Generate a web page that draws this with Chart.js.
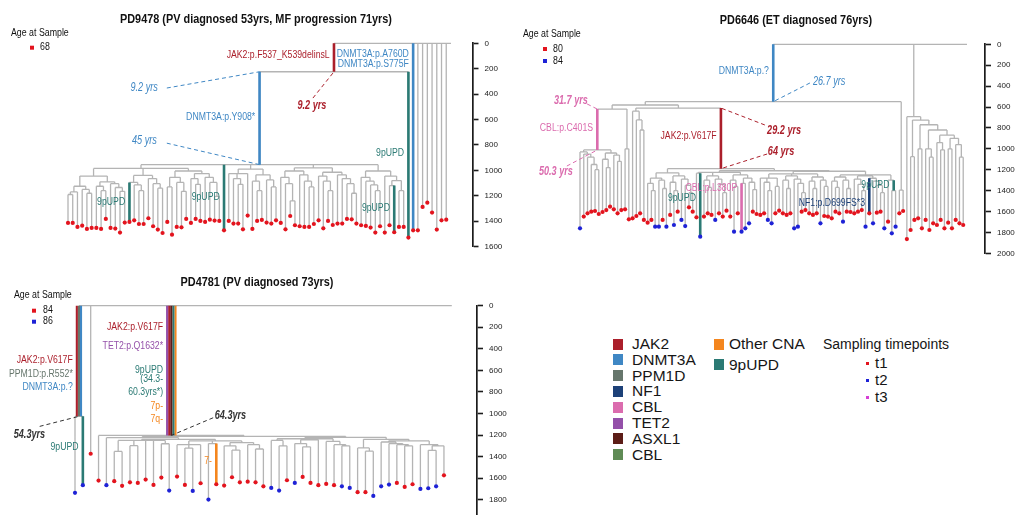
<!DOCTYPE html>
<html>
<head>
<meta charset="utf-8">
<script src="https://cdn.jsdelivr.net/npm/chart.js@4.4.1/dist/chart.umd.min.js"></script>
<style>
  html, body { margin: 0; padding: 0; background: #fff; }
  body { position: relative; width: 1018px; height: 515px; overflow: hidden; font-family: "Liberation Sans", Arial, sans-serif; }
  canvas { position: absolute; }
  .key { position: absolute; height: 16px; line-height: 16px; white-space: nowrap; color: #161616; }
  .swatch { position: absolute; width: 10px; height: 11px; }
</style>
</head>
<body>
<canvas id="pd9478"></canvas>
<canvas id="pd6646"></canvas>
<canvas id="pd4781"></canvas>
<div id="legend"></div>
<script>
// ---------- data: PD9478 ----------
const pd9478Title = "PD9478 (PV diagnosed 53yrs, MF progression 71yrs)";
const pd9478Ages = ["68"];
// mutation burden of each colony, in plotting order (last one is the ancestral root tip)
const pd9478Depth = [
  1414, 1414, 1445, 1435, 1461, 1453, 1453, 1461, 1382, 1453,
  1458, 1490, 1411, 1406, 1393, 1422, 1422, 1377, 1440, 1466,
  1493, 1406, 1506, 1445, 1448, 1382, 1414, 1382, 1398, 1406,
  1388, 1395, 1398, 1472, 1398, 1419, 1419, 1464, 1356, 1461,
  1398, 1390, 1411, 1419, 1393, 1414, 1464, 1359, 1432, 1440,
  1445, 1445, 1422, 1393, 1456, 1398, 1430, 1419, 1419, 1382,
  1385, 1419, 1432, 1437, 1450, 1490, 1440, 1490, 1432, 1487,
  1445, 1445, 1529, 1472, 1472, 1288, 1254, 1332, 1466, 1393,
  1388, 0
];
const pd9478Visit = [
  1, 1, 1, 1, 1, 1, 1, 1, 1, 1,  1, 1, 1, 1, 1, 1, 1, 1, 1, 1,
  1, 1, 1, 1, 1, 1, 1, 1, 1, 1,  1, 1, 1, 1, 1, 1, 1, 1, 1, 1,
  1, 1, 1, 1, 1, 1, 1, 1, 1, 1,  1, 1, 1, 1, 1, 1, 1, 1, 1, 1,
  1, 1, 1, 1, 1, 1, 1, 1, 1, 1,  1, 1, 1, 1, 1, 1, 1, 1, 1, 1,
  1, 0
];
// clades: [first colony, last colony, node depth]
const pd9478Clades = [
  [0, 72, 224], [0, 71, 955], [0, 32, 985], [0, 12, 1045], [0, 5, 1125], [0, 2, 1170], [0, 1, 1190],
  [3, 5, 1150], [4, 5, 1180], [6, 12, 1090], [6, 8, 1125], [7, 8, 1160], [9, 12, 1105], [10, 12, 1135],
  [11, 12, 1165], [13, 20, 1040], [13, 16, 1095], [14, 16, 1115], [15, 16, 1160], [17, 20, 1065],
  [18, 20, 1105], [19, 20, 1140], [21, 32, 1005], [21, 25, 1055], [21, 22, 1130], [23, 25, 1095],
  [24, 25, 1165], [26, 32, 1025], [26, 28, 1065], [27, 28, 1110], [29, 32, 1055], [30, 32, 1095],
  [31, 32, 1205], [34, 44, 990], [34, 38, 1025], [35, 37, 1065], [36, 37, 1110], [39, 44, 1035],
  [39, 41, 1085], [40, 41, 1160], [42, 44, 1075], [43, 44, 1130], [45, 61, 980], [45, 52, 1005],
  [45, 48, 1055], [46, 48, 1105], [47, 48, 1240], [49, 52, 1035], [50, 52, 1085], [51, 52, 1130],
  [53, 61, 1015], [53, 56, 1045], [54, 56, 1085], [55, 56, 1160], [57, 61, 1035], [58, 61, 1065],
  [59, 61, 1105], [60, 61, 1180], [62, 71, 1005], [62, 66, 1055], [63, 66, 1085], [64, 66, 1115],
  [65, 66, 1160], [67, 71, 1045], [68, 71, 1080], [68, 69, 1120], [70, 71, 1160]
];
const pd9478Marks = [
  [0, 72, "JAK2"], [0, 71, "DNMT3A"], [73, 73, "DNMT3A"], [72, 72, "9pUPD"],
  [13, 13, "9pUPD"], [33, 33, "9pUPD"], [69, 69, "9pUPD"]
];
// [first, last, text, gene, depth of text]
const pd9478Labels = [
  [0, 72, "JAK2:p.F537_K539delinsL", "JAK2", 92],
  [73, 73, "DNMT3A:p.A760D", "DNMT3A", 88],
  [73, 73, "DNMT3A:p.S775F", "DNMT3A", 167],
  [0, 71, "DNMT3A:p.Y908*", "DNMT3A", 581],
  [72, 72, "9pUPD", "9pUPD", 864],
  [13, 13, "9pUPD", "9pUPD", 1251],
  [33, 33, "9pUPD", "9pUPD", 1211],
  [69, 69, "9pUPD", "9pUPD", 1298]
];
// [first, last, branch end, text, tone, text x, text depth, align, pointer x, pointer depth]
const pd9478Notes = [
  [0, 71, "top", "9.2 yrs", "DNMT3A", 19.0, 352, "right", 20.9, 352],
  [0, 72, "bottom", "9.2 yrs", "JAK2", 51.6, 494, "center", 51.8, 431],
  [0, 71, "bottom", "45 yrs", "DNMT3A", 18.8, 770, "right", 20.9, 786]
];

// ---------- data: PD6646 ----------
const pd6646Title = "PD6646 (ET diagnosed 76yrs)";
const pd6646Ages = ["80", "84"];
const pd6646Depth = [
  1761, 1649, 1617, 1602, 1595, 1624, 1605, 1586, 1554, 1579,
  1617, 1586, 1579, 1675, 1665, 1643, 1617, 1681, 1707, 1681,
  1745, 1745, 1681, 1745, 1633, 1729, 1602, 1681, 1739, 1560,
  1602, 1656, 1841, 1649, 1617, 1633, 1681, 1617, 1649, 1592,
  1649, 1793, 1617, 1793, 1761, 1713, 1602, 1624, 1633, 1617,
  1681, 1713, 1617, 1592, 1617, 1633, 1617, 1761, 1745, 1602,
  1586, 1617, 1633, 1617, 1713, 1643, 1649, 1665, 1602, 1617,
  1697, 1602, 1605, 1617, 1602, 1586, 1745, 1617, 1713, 1611,
  1602, 1761, 1697, 1809, 1745, 1617, 1595, 1864, 1777, 1681,
  1665, 1761, 1681, 1777, 1713, 1729, 1681, 1761, 1707, 1761,
  1681, 1713, 1729, 0
];
const pd6646Visit = [
  2, 1, 1, 1, 1, 1, 1, 1, 1, 1,  1, 1, 1, 1, 1, 1, 1, 1, 1, 1,
  2, 2, 1, 2, 1, 2, 1, 2, 2, 1,  1, 1, 2, 1, 1, 1, 2, 1, 1, 1,
  1, 2, 1, 2, 2, 2, 1, 1, 1, 1,  2, 2, 1, 1, 1, 1, 1, 2, 2, 1,
  1, 1, 1, 1, 2, 1, 1, 1, 1, 1,  2, 1, 1, 1, 1, 1, 2, 1, 2, 1,
  1, 2, 1, 2, 2, 1, 1, 1, 1, 1,  1, 1, 1, 1, 1, 1, 1, 1, 1, 1,
  1, 1, 1, 0
];
const pd6646Clades = [
  [0, 86, 549], [0, 84, 581], [0, 13, 620], [0, 11, 1011], [0, 5, 1030], [1, 5, 1050], [2, 5, 1080],
  [3, 5, 1150], [4, 5, 1200], [6, 11, 1040], [6, 8, 1100], [7, 8, 1180], [9, 11, 1060], [10, 11, 1120],
  [12, 13, 1000], [14, 84, 610], [14, 17, 640], [15, 17, 724], [16, 17, 820], [18, 84, 1190],
  [18, 30, 1230], [18, 23, 1280], [18, 20, 1330], [19, 20, 1400], [21, 23, 1300], [22, 23, 1380],
  [24, 30, 1260], [24, 26, 1320], [25, 26, 1400], [27, 30, 1290], [28, 30, 1350], [29, 30, 1420],
  [31, 84, 1210], [31, 47, 1225], [31, 32, 1233], [33, 39, 1260], [33, 35, 1300], [34, 35, 1370],
  [36, 39, 1290], [37, 39, 1340], [38, 39, 1420], [40, 47, 1250], [40, 42, 1300], [41, 42, 1360],
  [43, 47, 1280], [43, 44, 1330], [45, 47, 1320], [46, 47, 1390], [48, 84, 1215], [48, 66, 1240],
  [48, 53, 1280], [49, 51, 1320], [50, 51, 1400], [52, 53, 1360], [54, 60, 1260], [54, 56, 1300],
  [55, 56, 1380], [57, 60, 1290], [58, 60, 1330], [59, 60, 1420], [61, 66, 1270], [61, 63, 1310],
  [62, 63, 1380], [64, 66, 1300], [65, 66, 1360], [67, 84, 1250], [67, 72, 1270], [67, 69, 1310],
  [68, 69, 1370], [70, 72, 1300], [71, 72, 1380], [73, 81, 1260], [73, 76, 1290], [74, 76, 1340],
  [75, 76, 1400], [77, 81, 1282], [78, 81, 1310], [79, 81, 1350], [80, 81, 1420], [82, 84, 1300],
  [83, 84, 1400], [85, 86, 1395], [87, 102, 693], [88, 102, 725], [88, 89, 1075], [90, 102, 770],
  [90, 91, 1000], [92, 102, 820], [92, 94, 1000], [93, 94, 1080], [95, 102, 870], [95, 97, 940],
  [96, 97, 1010], [98, 102, 900], [98, 99, 1000], [100, 102, 960], [101, 102, 1080]
];
const pd6646Marks = [
  [0, 86, "DNMT3A"], [18, 84, "JAK2"], [0, 11, "CBL"], [43, 43, "CBL"],
  [32, 32, "9pUPD"], [77, 77, "NF1"], [83, 84, "9pUPD"]
];
const pd6646Labels = [
  [0, 86, "DNMT3A:p.?", "DNMT3A", 262],
  [18, 84, "JAK2:p.V617F", "JAK2", 877],
  [0, 11, "CBL:p.C401S", "CBL", 801],
  [43, 43, "CBL:p.L380P", "CBL", 1375],
  [32, 32, "9pUPD", "9pUPD", 1471],
  [77, 77, "NF1:p.D699FS*3", "NF1", 1519],
  [83, 84, "9pUPD", "9pUPD", 1346]
];
const pd6646Notes = [
  [0, 86, "bottom", "26.7 yrs", "DNMT3A", 62.0, 358, "left", 61.2, 370],
  [18, 84, "top", "29.2 yrs", "JAK2", 49.8, 827, "left", 49.2, 772],
  [18, 84, "bottom", "64 yrs", "JAK2", 50.0, 1031, "left", 49.8, 1050],
  [0, 11, "top", "31.7 yrs", "CBL", 2.1, 543, "right", 1.9, 571],
  [0, 11, "bottom", "50.3 yrs", "CBL", -1.9, 1222, "right", -3.5, 1165]
];

// ---------- data: PD4781 ----------
const pd4781Title = "PD4781 (PV diagnosed 73yrs)";
const pd4781Ages = ["84", "86"];
const pd4781Depth = [
  1737, 1666, 1374,
  1623, 1666, 1629, 1672, 1639, 1645, 1614, 1663, 1595, 1716,
  1586, 1663, 1719, 1648, 1799, 1657, 1669, 1592, 1639, 1633,
  1639, 1676, 1691, 1716, 1620, 1645, 1589, 1645, 1666, 1654,
  1666, 1676, 1691, 1731, 1731, 1765, 1676, 1660, 1645, 1682,
  1657, 1700, 1694, 1676, 1574,
  0
];
const pd4781Visit = [
  2, 2, 1,
  1, 2, 1, 1, 1, 1, 1, 1, 1, 2,
  1, 1, 2, 1, 2, 1, 1, 1, 1, 1,
  1, 1, 2, 2, 1, 2, 1, 1, 1, 1,
  1, 2, 2, 1, 1, 2, 2, 2, 1, 1,
  1, 2, 2, 2, 1,
  0
];
const pd4781Clades = [
  [0, 1, 1027], [3, 47, 1204], [4, 47, 1212], [4, 24, 1225], [5, 24, 1240], [5, 12, 1250],
  [5, 6, 1352], [7, 8, 1299], [11, 12, 1281], [13, 24, 1255], [13, 16, 1290], [14, 15, 1321],
  [17, 18, 1280], [19, 24, 1270], [19, 21, 1300], [20, 21, 1340], [22, 24, 1290], [23, 24, 1330],
  [25, 47, 1222], [25, 35, 1235], [25, 27, 1250], [26, 27, 1300], [28, 31, 1245], [28, 30, 1280],
  [29, 30, 1310], [32, 35, 1260], [33, 35, 1290], [34, 35, 1300], [36, 47, 1240], [36, 38, 1320],
  [37, 38, 1350], [39, 47, 1255], [39, 43, 1265], [40, 43, 1280], [41, 43, 1290], [42, 43, 1300],
  [44, 47, 1290], [45, 47, 1300], [45, 46, 1342]
];
const pd4781Marks = [
  [0, 1, "JAK2"], [0, 1, "PPM1D"], [0, 1, "DNMT3A"], [1, 1, "9pUPD"],
  [3, 47, "TET2"], [3, 47, "JAK2"], [3, 47, "ASXL1"], [3, 47, "9pUPD"], [3, 47, "CNA"],
  [18, 18, "CNA"]
];
const pd4781Labels = [
  [0, 1, "JAK2:p.V617F", "JAK2", 503],
  [0, 1, "PPM1D:p.R552*", "PPM1D", 635],
  [0, 1, "DNMT3A:p.?", "DNMT3A", 759],
  [1, 1, "9pUPD", "9pUPD", 1318],
  [3, 47, "JAK2:p.V617F", "JAK2", 204],
  [3, 47, "TET2:p.Q1632*", "TET2", 379],
  [3, 47, "9pUPD", "9pUPD", 597],
  [3, 47, "(34.3-", "9pUPD", 682],
  [3, 47, "60.3yrs*)", "9pUPD", 802],
  [3, 47, "7p-", "CNA", 935],
  [3, 47, "7q-", "CNA", 1052],
  [18, 18, "7-", "CNA", 1444]
];
const pd4781Notes = [
  [0, 1, "bottom", "54.3yrs", "dark", -3.8, 1197, "right", -4.5, 1120],
  [3, 47, "bottom", "64.3yrs", "dark", 17.8, 1021, "left", 17.6, 1040]
];

// ---------- legend ----------
const legendGenes = ["JAK2", "DNMT3A", "PPM1D", "NF1", "CBL", "TET2", "ASXL1", "CBL"];
const legendGeneKeys = ["JAK2", "DNMT3A", "PPM1D", "NF1", "CBL", "TET2", "ASXL1", "CBL2"];
const legendEvents = ["Other CNA", "9pUPD"];
const legendEventKeys = ["CNA", "9pUPD"];
const timepointTitle = "Sampling timepoints";
const timepointNames = ["t1", "t2", "t3"];
const yTicksStep = 200;

// ---------- styles & layout ----------
const FONT = "'Liberation Sans', Arial, Helvetica, sans-serif";
const colours = {
  JAK2: "#ab1f2b", DNMT3A: "#3f87c4", PPM1D: "#66766c", NF1: "#1d4178", CBL: "#db6cae",
  TET2: "#9450a9", ASXL1: "#5c1d17", CBL2: "#5f8b55", CNA: "#f4861e", "9pUPD": "#2b7a74",
  dark: "#333333"
};
const visitColours = ["", "#e3141e", "#1e22d6", "#d63fd6"];
const AXIS_W = 30;

const panelLayout = {
  pd9478: { left: 0, top: 0, width: 515, height: 262, areaLeft: 8, areaRight: 472.5, areaTop: 43.3, areaBottom: 246.6,
    firstTip: 68, tipStep: 4.728, yMax: 1600, titleX: 256, titleY: 19.5,
    ageX: 11, ageY: 33.3, ageBoxX: 32, ageTextX: 40, ageRowY: 47.7, ageGap: 12 },
  pd6646: { left: 509, top: 0, width: 509, height: 265, areaLeft: 8, areaRight: 476, areaTop: 44.3, areaBottom: 253.3,
    firstTip: 71, tipStep: 3.757, yMax: 2000, titleX: 287, titleY: 20.5,
    ageX: 14, ageY: 34.3, ageBoxX: 36, ageTextX: 44, ageRowY: 49, ageGap: 12 },
  pd4781: { left: 0, top: 270, width: 515, height: 262, areaLeft: 8, areaRight: 477, areaTop: 35.7, areaBottom: 251.7,
    firstTip: 75, tipStep: 7.85, yMax: 2000, titleX: 257, titleY: 12.5,
    ageX: 14, ageY: 25.7, ageBoxX: 34, ageTextX: 43, ageRowY: 40.7, ageGap: 11 }
};

// ---------- tree layout ----------
function buildTree(depth, clades) {
  const n = depth.length;
  const tips = depth.map((h, i) => ({ a: i, b: i, h, x: i, kids: [], marks: [] }));
  const inner = clades.map(([a, b, h]) => ({ a, b, h, kids: [], marks: [] }));
  if (!inner.some((c) => c.a === 0 && c.b === n - 1)) inner.push({ a: 0, b: n - 1, h: 0, kids: [], marks: [] });
  const bySize = inner.slice().sort((p, q) => (p.b - p.a) - (q.b - q.a));
  const nodes = [...tips, ...inner];
  nodes.forEach((node) => {
    const parent = bySize.find((c) => c !== node && c.a <= node.a && c.b >= node.b && c.b - c.a > node.b - node.a);
    if (parent) {
      node.parent = parent;
      parent.kids.push(node);
    }
  });
  bySize.forEach((c) => {
    c.kids.sort((p, q) => p.a - q.a);
    c.x = (c.kids[0].x + c.kids[c.kids.length - 1].x) / 2;
  });
  return { nodes, find: (a, b) => nodes.find((nd) => nd.a === a && nd.b === b) };
}

function say(ctx, text, x, y, font, colour, align, squeeze) {
  ctx.save();
  ctx.font = font;
  ctx.fillStyle = colour;
  ctx.textAlign = align;
  ctx.textBaseline = "middle";
  ctx.translate(x, y);
  ctx.scale(squeeze, 1);
  ctx.fillText(text, 0, 0);
  ctx.restore();
}

function textLayer(spec, tree, L) {
  return {
    id: "treeText",
    afterDraw(chart) {
      const { ctx } = chart;
      const px = (v) => chart.scales.x.getPixelForValue(v);
      const py = (v) => chart.scales.y.getPixelForValue(v);

      say(ctx, spec.title, L.titleX, L.titleY, "bold 12.5px " + FONT, "#111", "center", 0.87);
      say(ctx, "Age at Sample", L.ageX, L.ageY, "10px " + FONT, "#111", "left", 0.88);
      spec.ages.forEach((age, k) => {
        const y = L.ageRowY + k * L.ageGap;
        ctx.fillStyle = visitColours[k + 1];
        ctx.fillRect(L.ageBoxX - 2, y - 2, 4, 4);
        say(ctx, age, L.ageTextX, y, "10px " + FONT, "#111", "left", 0.88);
      });

      spec.labels.forEach(([a, b, text, gene, depth]) => {
        const nd = tree.find(a, b);
        say(ctx, text, px(nd.x) - 3 - (nd.halfPx || 1), py(depth), "10px " + FONT, colours[gene], "right", 0.87);
      });

      spec.notes.forEach(([a, b, end, text, tone, ti, td, align, fi, fd]) => {
        const nd = tree.find(a, b);
        const ty = py(end === "top" ? nd.parent.h : nd.h);
        ctx.save();
        ctx.setLineDash([4, 3]);
        ctx.strokeStyle = colours[tone];
        ctx.lineWidth = 1;
        ctx.beginPath();
        ctx.moveTo(px(fi), py(fd));
        ctx.lineTo(px(nd.x), ty);
        ctx.stroke();
        ctx.restore();
        const weight = tone === "DNMT3A" ? "italic " : "italic bold ";
        say(ctx, text, px(ti), py(td), weight + "12px " + FONT, colours[tone], align, 0.76);
      });
    }
  };
}

function drawPanel(id, spec) {
  const L = panelLayout[id];
  const tree = buildTree(spec.depth, spec.clades);
  spec.marks.forEach(([a, b, gene]) => tree.find(a, b).marks.push(gene));

  const branchPoints = [];
  tree.nodes.forEach((nd) => {
    if (nd.parent) branchPoints.push({ x: nd.x, y: nd.parent.h }, { x: nd.x, y: nd.h }, { x: NaN, y: NaN });
    if (nd.kids.length) branchPoints.push({ x: nd.kids[0].x, y: nd.h }, { x: nd.kids[nd.kids.length - 1].x, y: nd.h }, { x: NaN, y: NaN });
  });

  const stripes = [];
  tree.nodes.filter((nd) => nd.marks.length).forEach((nd) => {
    const k = nd.marks.length;
    const w = k > 1 ? 2.1 : 2.6;
    nd.halfPx = (k * w) / 2;
    nd.marks.forEach((gene, j) => {
      const dx = ((j - (k - 1) / 2) * w) / L.tipStep;
      stripes.push({
        data: [{ x: nd.x + dx, y: nd.parent.h }, { x: nd.x + dx, y: nd.h }],
        showLine: true, borderColor: colours[gene], borderWidth: w, borderCapStyle: "butt",
        pointRadius: 0, clip: false
      });
    });
  });

  const dots = [1, 2].map((v) => ({
    data: spec.depth.map((h, i) => ({ x: i, y: h })).filter((p, i) => spec.visit[i] === v),
    showLine: false, pointRadius: 2.1, pointStyle: "circle",
    pointBackgroundColor: visitColours[v], pointBorderColor: visitColours[v], pointBorderWidth: 0, clip: false
  }));

  const greyTree = {
    data: branchPoints, showLine: true, spanGaps: false, borderColor: "#b4b4b4", borderWidth: 1.3,
    pointRadius: 0, clip: false
  };

  const canvas = document.getElementById(id);
  canvas.width = L.width;
  canvas.height = L.height;
  canvas.style.left = L.left + "px";
  canvas.style.top = L.top + "px";
  const xMin = -(L.firstTip - L.areaLeft) / L.tipStep;
  const xMax = xMin + (L.areaRight - L.areaLeft) / L.tipStep;

  new Chart(canvas, {
    type: "scatter",
    data: { datasets: [...dots, ...stripes, greyTree] },
    options: {
      responsive: false,
      animation: false,
      devicePixelRatio: 1,
      events: [],
      layout: {
        autoPadding: false,
        padding: { left: L.areaLeft, top: L.areaTop, right: L.width - L.areaRight - AXIS_W, bottom: L.height - L.areaBottom }
      },
      plugins: { legend: { display: false }, tooltip: { enabled: false }, title: { display: false } },
      scales: {
        x: { type: "linear", display: false, min: xMin, max: xMax },
        y: {
          type: "linear", position: "right", reverse: true, min: 0, max: L.yMax,
          afterFit: (s) => { s.width = AXIS_W; },
          border: { display: true, color: "#1c1c1c", width: 1.7 },
          grid: { drawOnChartArea: false, drawTicks: true, tickLength: 6, tickColor: "#1c1c1c", tickWidth: 1.6, color: "#1c1c1c" },
          ticks: {
            stepSize: yTicksStep, autoSkip: false, maxRotation: 0, padding: 6, color: "#222",
            font: { family: FONT, size: 8 }, callback: (v) => String(v)
          }
        }
      }
    },
    plugins: [textLayer(spec, tree, L)]
  });
}

drawPanel("pd9478", { title: pd9478Title, ages: pd9478Ages, depth: pd9478Depth, visit: pd9478Visit,
  clades: pd9478Clades, marks: pd9478Marks, labels: pd9478Labels, notes: pd9478Notes });
drawPanel("pd6646", { title: pd6646Title, ages: pd6646Ages, depth: pd6646Depth, visit: pd6646Visit,
  clades: pd6646Clades, marks: pd6646Marks, labels: pd6646Labels, notes: pd6646Notes });
drawPanel("pd4781", { title: pd4781Title, ages: pd4781Ages, depth: pd4781Depth, visit: pd4781Visit,
  clades: pd4781Clades, marks: pd4781Marks, labels: pd4781Labels, notes: pd4781Notes });

// ---------- colour key ----------
const legend = document.getElementById("legend");
function keyText(text, left, midY, size) {
  const el = document.createElement("div");
  el.className = "key";
  el.style.left = left + "px";
  el.style.top = (midY - 8) + "px";
  el.style.fontSize = size + "px";
  el.textContent = text;
  legend.appendChild(el);
}
function keyBox(colour, left, midY, w, h) {
  const el = document.createElement("div");
  el.className = "swatch";
  el.style.left = left + "px";
  el.style.top = (midY - h / 2) + "px";
  el.style.width = w + "px";
  el.style.height = h + "px";
  el.style.background = colour;
  legend.appendChild(el);
}
legendGenes.forEach((name, i) => {
  const y = 344 + i * 15.8;
  keyBox(colours[legendGeneKeys[i]], 613, y, 10, 11);
  keyText(name, 632, y, 15.5);
});
legendEvents.forEach((name, i) => {
  const y = 344 + i * 20.5;
  keyBox(colours[legendEventKeys[i]], 714, y, 10, 11);
  keyText(name, 729, y, 15.5);
});
keyText(timepointTitle, 823, 344, 14);
timepointNames.forEach((name, i) => {
  const y = 363.3 + i * 17;
  keyBox(visitColours[i + 1], 866, y, 3, 3);
  keyText(name, 875, y, 15);
});
</script>
</body>
</html>
